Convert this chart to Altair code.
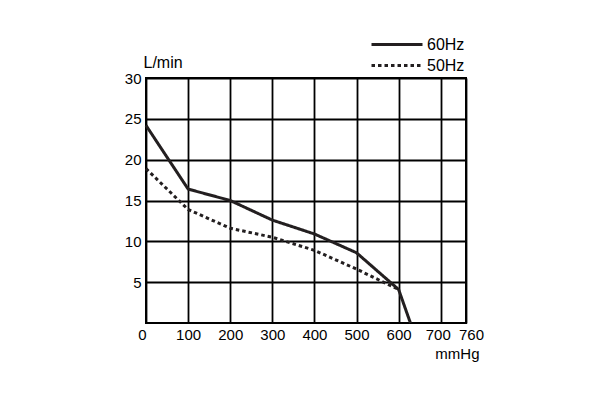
import altair as alt
import pandas as pd

pressure_60 = [0, 100, 200, 300, 400, 500, 600, 628]
flow_60 = [24.2, 16.4, 15.0, 12.6, 10.9, 8.6, 4.1, 0]
pressure_50 = [0, 100, 200, 300, 400, 500, 600]
flow_50 = [18.9, 13.9, 11.6, 10.5, 8.9, 6.6, 4.1]
series = ["60Hz", "50Hz"]
x_ticks = [0, 100, 200, 300, 400, 500, 600, 700, 760]
y_ticks = [5, 10, 15, 20, 25, 30]

rows = []
for p, f in zip(pressure_60, flow_60):
    rows.append({"p": p, "f": f, "s": series[0]})
for p, f in zip(pressure_50, flow_50):
    rows.append({"p": p, "f": f, "s": series[1]})
df = pd.DataFrame(rows)

FONT = "Liberation Sans"
INK = "#231f20"

x_label_offset = {
    "condition": [
        {"test": "datum.value == 0", "value": -4},
        {"test": "datum.value == 700", "value": -3},
        {"test": "datum.value == 760", "value": 5},
    ],
    "value": 0,
}

chart = alt.Chart(df).mark_line(strokeWidth=3, color=INK).encode(
    x=alt.X("p:Q", scale=alt.Scale(domain=[0, 760], nice=False),
            axis=alt.Axis(values=x_ticks, title="mmHg", titleAlign="right",
                          titleX=333, titleY=30, titleBaseline="middle",
                          labelPadding=4, labelFlush=False, labelOffset=x_label_offset)),
    y=alt.Y("f:Q", scale=alt.Scale(domain=[0, 30], nice=False),
            axis=alt.Axis(values=y_ticks, title="L/min", titleAngle=0,
                          titleAlign="left", titleX=-3, titleY=-16, titleFontSize=16,
                          titleBaseline="middle", labelPadding=5)),
    strokeDash=alt.StrokeDash("s:N", scale=alt.Scale(domain=series, range=[[1, 0], [3.5, 3]]),
                              legend=alt.Legend(title=None, orient="none", legendX=224, legendY=-43,
                                                symbolType="stroke", symbolSize=2601,
                                                symbolStrokeWidth=3, symbolStrokeColor=INK,
                                                labelOffset=3, clipHeight=19,
                                                labelFontSize=16, labelFont=FONT, labelColor="#000")),
    detail="s:N",
    order="p:Q",
).properties(
    width=320, height=245,
    autosize=alt.AutoSizeParams(type="none"),
    padding={"left": 138, "top": 70, "right": 40, "bottom": 60},
).configure_view(
    stroke="#000", strokeWidth=2
).configure_axis(
    domain=False, ticks=False, grid=True, gridColor="#000", gridWidth=1.8, gridOpacity=1,
    labelFont=FONT, labelFontSize=15, labelColor="#000",
    titleFont=FONT, titleFontSize=15, titleColor="#000", titleFontWeight="normal",
)

chart.save("out.html", embed_options={"renderer": "svg", "actions": False})
